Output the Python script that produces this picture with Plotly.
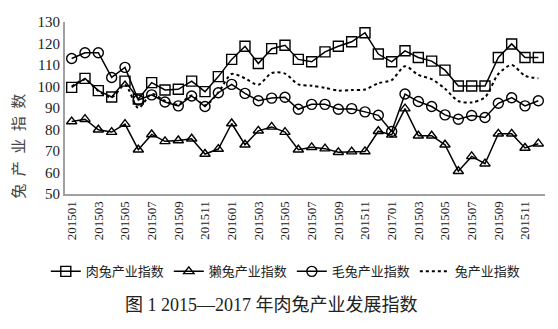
import plotly.graph_objects as go

# Monthly categories, Jan 2015 - Dec 2017
months = [
    "201501", "201502", "201503", "201504", "201505", "201506",
    "201507", "201508", "201509", "201510", "201511", "201512",
    "201601", "201602", "201603", "201604", "201605", "201606",
    "201607", "201608", "201609", "201610", "201611", "201612",
    "201701", "201702", "201703", "201704", "201705", "201706",
    "201707", "201708", "201709", "201710", "201711", "201712",
]

# Axis labels shown every second month
tick_labels = [
    "201501", "201503", "201505", "201507", "201509", "201511",
    "201601", "201503", "201505", "201507", "201509", "201511",
    "201701", "201503", "201505", "201507", "201509", "201511",
]

# 肉兔产业指数
meat_index = [
    99.6, 103.8, 98.1, 95.1, 102.5, 94.2, 101.8, 98.4, 98.7, 102.5, 97.6, 104.6,
    112.6, 118.7, 110.7, 117.6, 119.2, 112.6, 111.5, 116.1, 118.7, 120.8, 125.0, 115.1,
    111.5, 116.6, 113.5, 111.8, 107.6, 100.2, 100.2, 100.2, 113.5, 119.8, 113.5, 113.5,
]

# 獭兔产业指数
rex_index = [
    83.7, 84.8, 79.9, 78.8, 82.5, 70.6, 77.7, 74.5, 74.9, 75.7, 68.6, 70.9,
    82.8, 72.9, 79.4, 81.2, 78.8, 70.6, 71.7, 71.1, 69.4, 69.7, 69.8, 79.2,
    77.5, 89.7, 77.1, 77.1, 72.9, 60.6, 67.5, 64.1, 78.0, 78.0, 71.4, 73.4,
]

# 毛兔产业指数
wool_index = [
    113.0, 115.7, 115.7, 104.2, 108.9, 93.7, 96.1, 92.8, 91.0, 95.6, 90.7, 97.1,
    101.0, 96.8, 93.4, 94.6, 95.0, 89.4, 91.7, 91.7, 89.4, 89.7, 88.2, 86.6,
    79.1, 96.5, 93.0, 90.7, 86.8, 84.8, 86.5, 85.6, 92.2, 94.8, 91.0, 93.4,
]

# 兔产业指数
rabbit_index = [
    100.0, 103.2, 98.0, 95.0, 100.8, 90.0, 96.5, 93.3, 91.6, 95.8, 91.2, 97.3,
    105.8, 103.8, 100.8, 106.3, 106.0, 101.0, 100.4, 99.4, 98.1, 98.4, 98.6, 101.5,
    103.0, 109.4, 105.4, 103.4, 99.0, 93.2, 92.6, 95.0, 105.8, 110.0, 105.0, 103.8,
]

serif = "Liberation Serif, Noto Sans CJK SC"
line_style = dict(color="black", width=1.5)

fig = go.Figure()
fig.add_trace(go.Scatter(
    x=months, y=meat_index, name="肉兔产业指数", mode="lines+markers",
    line=line_style,
    marker=dict(symbol="square-open", size=10, color="black", line=dict(width=1.4)),
))
fig.add_trace(go.Scatter(
    x=months, y=rex_index, name="獭兔产业指数", mode="lines+markers",
    line=line_style,
    marker=dict(symbol="triangle-up-open", size=9, color="black", line=dict(width=1.4)),
))
fig.add_trace(go.Scatter(
    x=months, y=wool_index, name="毛兔产业指数", mode="lines+markers",
    line=line_style,
    marker=dict(symbol="circle-open", size=10, color="black", line=dict(width=1.4)),
))
fig.add_trace(go.Scatter(
    x=months, y=rabbit_index, name="兔产业指数", mode="lines",
    line=dict(color="black", width=2, dash="dot", shape="spline", smoothing=0.8),
))

# y-axis title with widened character spacing
y_title = "\u2002".join("兔产业指数")

fig.update_layout(
    width=558, height=329,
    margin=dict(l=65, r=13, t=21.5, b=134.5),
    paper_bgcolor="white", plot_bgcolor="white",
    font=dict(family=serif, color="#222"),
    showlegend=True,
    legend=dict(
        orientation="h", x=0.46, xanchor="center", y=-0.45, yanchor="middle",
        font=dict(size=13, family=serif), itemwidth=30, tracegroupgap=0,
        bgcolor="rgba(0,0,0,0)",
    ),
    xaxis=dict(
        type="category", categoryorder="array", categoryarray=months,
        range=[-0.5, 35.5],
        tickvals=months[::2], ticktext=tick_labels,
        tickangle=-90, tickfont=dict(size=13, family="Liberation Serif", color="#222"),
        showgrid=False, zeroline=False,
        showline=True, linecolor="#a0a0a0", linewidth=2,
        ticks="",
    ),
    yaxis=dict(
        range=[50, 130], dtick=10, tick0=50,
        tickfont=dict(size=15, family="Liberation Serif", color="#222"),
        showgrid=False, zeroline=False,
        showline=True, linecolor="#a0a0a0", linewidth=2,
        ticks="",
    ),
    annotations=[
        dict(
            text=y_title, textangle=-90,
            x=-0.098, y=0.28, xref="paper", yref="paper",
            xanchor="center", yanchor="middle",
            showarrow=False, font=dict(size=15, family="Noto Sans CJK SC", color="#444"),
        ),
        dict(
            text="图 1 2015—2017 年肉兔产业发展指数",
            x=0.431, y=-0.645, xref="paper", yref="paper",
            xanchor="center", yanchor="middle",
            showarrow=False, font=dict(size=18, family=serif, color="#222"),
        ),
    ],
)

fig.write_html("out.html")
